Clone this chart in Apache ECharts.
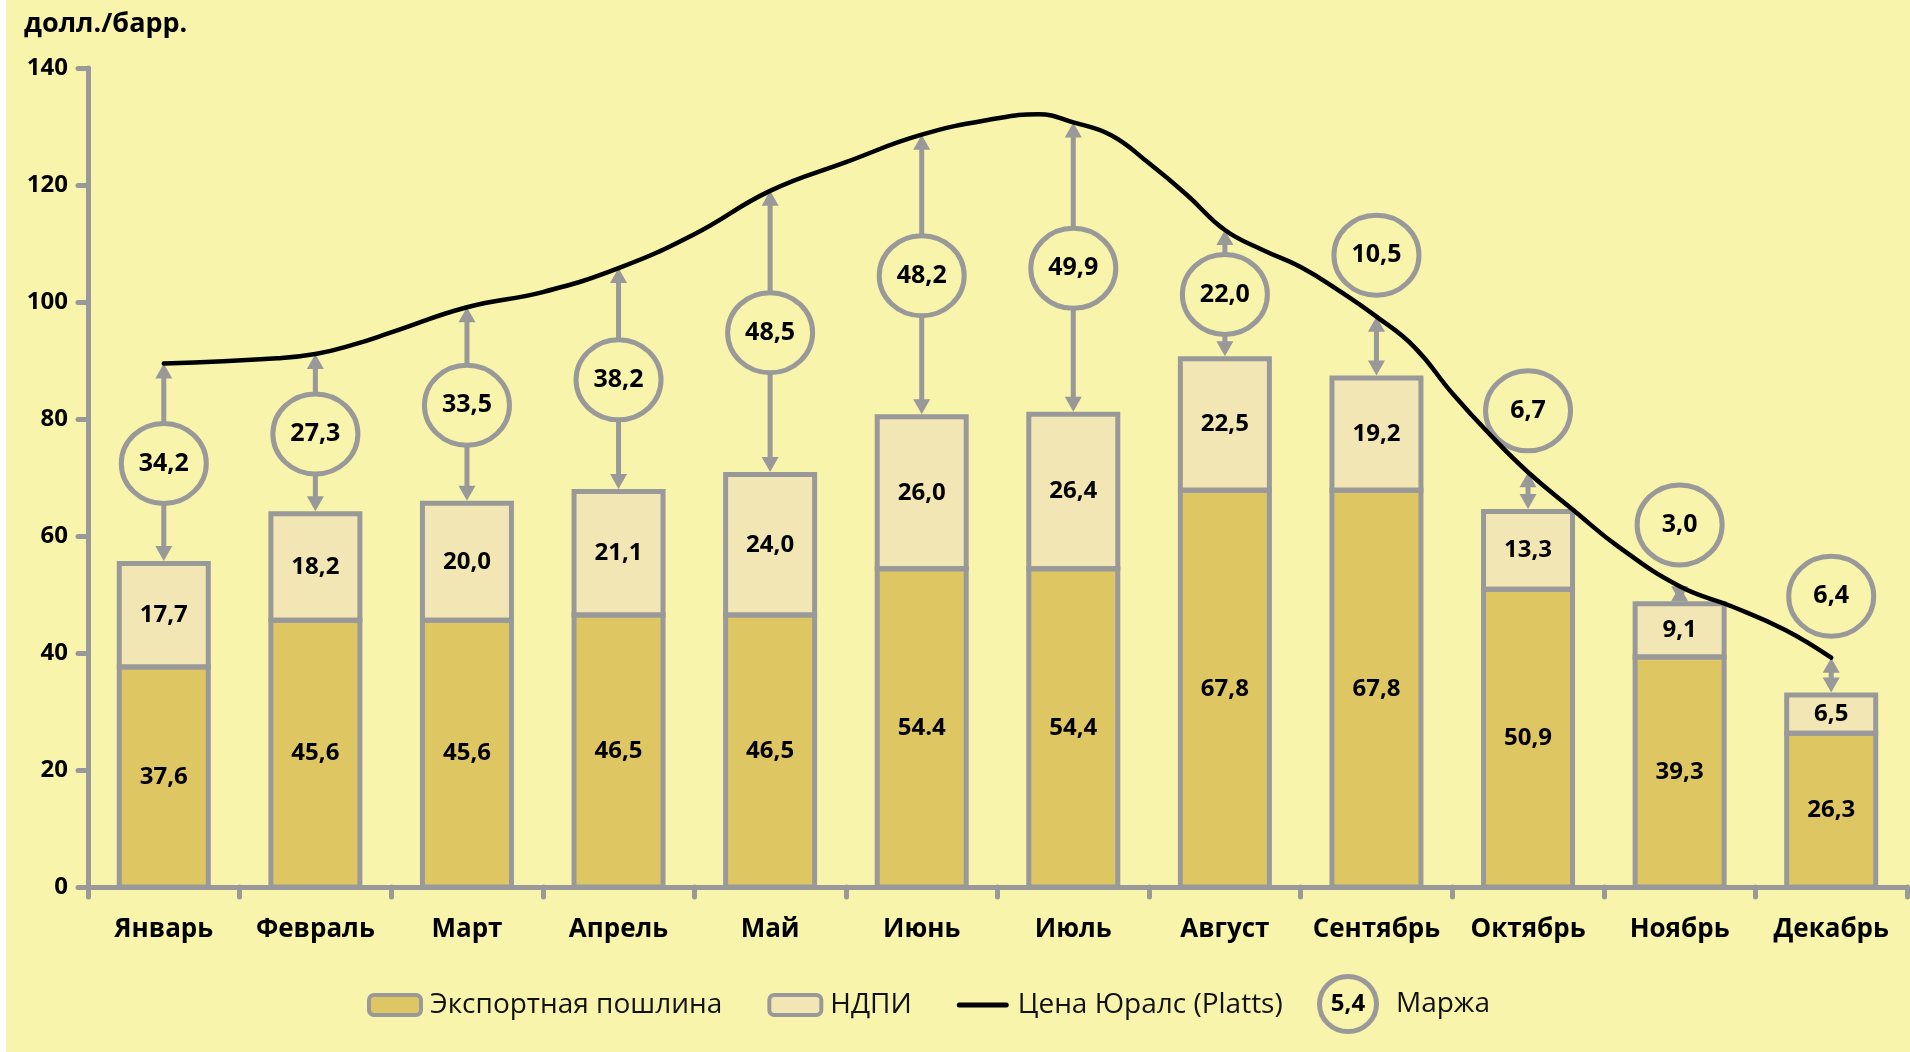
<!DOCTYPE html>
<html>
<head>
<meta charset="utf-8">
<script src="https://cdn.jsdelivr.net/npm/echarts@6/dist/echarts.min.js"></script>
<style>
  html, body { margin: 0; padding: 0; background: #fff; }
  #chart { position: absolute; left: 6px; top: 0; width: 1904px; height: 1052px; background: #F8F4AB; }
</style>
</head>
<body>
<div id="chart"></div>
<script>
const months = ['Январь', 'Февраль', 'Март', 'Апрель', 'Май', 'Июнь', 'Июль', 'Август', 'Сентябрь', 'Октябрь', 'Ноябрь', 'Декабрь']
const exportDuty = [37.6, 45.6, 45.6, 46.5, 46.5, 54.4, 54.4, 67.8, 67.8, 50.9, 39.3, 26.3]
const mineralTax = [17.7, 18.2, 20.0, 21.1, 24.0, 26.0, 26.4, 22.5, 19.2, 13.3, 9.1, 6.5]
const margin = [34.2, 27.3, 33.5, 38.2, 48.5, 48.2, 49.9, 22.0, 10.5, 6.7, 3.0, 6.4]
// цена Юралс: [позиция по месяцам (центр месяца = i + 0.5), долл./барр.]
const uralsPrice = [
  [0.5, 89.5], [1.25, 90.4], [1.5, 91.1], [1.75, 92.7], [2.0, 94.8], [2.5, 99.1],
  [3.0, 101.7], [3.5, 105.8], [4.0, 111.6], [4.5, 119.0], [5.0, 123.9], [5.5, 128.6],
  [6.0, 131.4], [6.27, 132.1], [6.5, 130.7], [6.75, 128.5], [7.0, 123.7], [7.25, 118.3],
  [7.5, 112.3], [7.75, 108.9], [8.0, 106.0], [8.25, 102.0], [8.5, 97.5], [8.75, 92.3],
  [9.0, 84.4], [9.25, 77.3], [9.5, 70.9], [9.8, 64.4], [10.1, 58.1], [10.5, 51.4],
  [10.85, 47.9], [11.2, 43.9], [11.5, 39.2]
]

const bg = '#F8F4AB'
const grey = '#999999'
const font = '"Open Sans", "Noto Sans", sans-serif'
const barW = 89

const fmt = v => v.toFixed(1).replace('.', ',')

// контуры столбиков, стрелка маржи и кружок с подписью
function renderMargin(params, api) {
  const i = api.value(0)
  const duty = api.value(1)
  const base = api.value(2)
  const top = api.value(3)
  const m = top - base
  const x = api.coord([i, 0])[0]
  const y0 = api.coord([i, 0])[1]
  const yd = api.coord([i, duty])[1]
  const yb = api.coord([i, base])[1]
  const yt = api.coord([i, top])[1]
  const yc = api.coord([i, m > 15 ? (base + top) / 2 : top + 10.5])[1]
  const ya = yb - 2.5
  const hw = 8.5
  const hh = 15
  const outline = { fill: null, stroke: grey, lineWidth: 5 }
  return {
    type: 'group',
    children: [
      { type: 'rect', shape: { x: x - barW / 2, y: yd, width: barW, height: y0 - yd }, style: outline },
      { type: 'rect', shape: { x: x - barW / 2, y: yb, width: barW, height: yd - yb }, style: outline },
      { type: 'line', shape: { x1: x, y1: yt + hh - 1, x2: x, y2: ya - hh + 1 }, style: { stroke: grey, lineWidth: 5 } },
      { type: 'polygon', shape: { points: [[x, yt], [x - hw, yt + hh], [x + hw, yt + hh]] }, style: { fill: grey } },
      { type: 'polygon', shape: { points: [[x, ya], [x - hw, ya - hh], [x + hw, ya - hh]] }, style: { fill: grey } },
      { type: 'ellipse', shape: { cx: x, cy: yc, rx: 42.5, ry: 40 }, style: { fill: bg, stroke: grey, lineWidth: 5 } },
      { type: 'text', style: { text: fmt(m), x: x, y: yc, align: 'center', verticalAlign: 'middle', font: 'bold 25px ' + font, fill: '#000' } }
    ]
  }
}

const chart = echarts.init(document.getElementById('chart'))
const option = {
  animation: false,
  backgroundColor: bg,
  title: {
    text: 'долл./барр.',
    left: 13,
    top: 6,
    textStyle: { fontFamily: font, fontWeight: 'bold', fontSize: 27, color: '#000' }
  },
  legend: {
    data: [
      'Экспортная пошлина',
      'НДПИ',
      {
        name: 'Цена Юралс (Platts)',
        icon: 'path://M2.5,0 L49.5,0 A2.5,2.5 0 0 1 49.5,5 L2.5,5 A2.5,2.5 0 0 1 2.5,0 Z',
        itemStyle: { color: '#000', borderWidth: 0 }
      }
    ],
    left: 356,
    top: 986,
    itemWidth: 52,
    itemHeight: 20,
    itemGap: 45,
    itemStyle: { borderColor: grey, borderWidth: 4 },
    textStyle: { fontFamily: font, fontSize: 28, color: '#111', padding: [0, 0, 0, 4] }
  },
  grid: { left: 82, right: 3, top: 68, bottom: 165 },
  xAxis: [
    {
      type: 'category',
      data: months,
      axisLine: { lineStyle: { color: grey, width: 5 } },
      axisTick: { show: true, interval: 0, length: 10, lineStyle: { color: grey, width: 5, cap: 'round' } },
      axisLabel: { interval: 0, color: '#000', fontFamily: font, fontWeight: 'bold', fontSize: 26, margin: 30 }
    },
    { type: 'value', min: 0, max: 12, show: false }
  ],
  yAxis: {
    type: 'value',
    min: 0,
    max: 140,
    interval: 20,
    splitLine: { show: false },
    axisLine: { show: true, lineStyle: { color: grey, width: 5, cap: 'round' } },
    axisTick: { show: true, length: 10, lineStyle: { color: grey, width: 5, cap: 'round' } },
    axisLabel: { color: '#000', fontFamily: font, fontWeight: 'bold', fontSize: 24, margin: 20 }
  },
  graphic: [
    { type: 'ellipse', shape: { cx: 1342, cy: 1004, rx: 28.5, ry: 27.5 }, style: { fill: bg, stroke: grey, lineWidth: 5 } },
    { type: 'text', style: { text: '5,4', x: 1342, y: 1004, align: 'center', verticalAlign: 'middle', font: 'bold 24px ' + font, fill: '#000' } },
    { type: 'text', style: { text: 'Маржа', x: 1390, y: 1004, verticalAlign: 'middle', font: '28px ' + font, fill: '#111' } }
  ],
  series: [
    {
      name: 'Экспортная пошлина',
      type: 'bar',
      stack: 'total',
      barWidth: barW,
      data: exportDuty,
      itemStyle: { color: '#DEC763' },
      label: {
        show: true,
        position: 'inside',
        color: '#000',
        fontFamily: font,
        fontWeight: 'bold',
        fontSize: 24,
        // в оригинале у июня стоит точка
        formatter: p => p.dataIndex === 5 ? p.value.toFixed(1) : fmt(p.value)
      }
    },
    {
      name: 'НДПИ',
      type: 'bar',
      stack: 'total',
      barWidth: barW,
      data: mineralTax,
      itemStyle: { color: '#F2E6B4' },
      label: {
        show: true,
        position: 'inside',
        color: '#000',
        fontFamily: font,
        fontWeight: 'bold',
        fontSize: 24,
        formatter: p => fmt(p.value)
      }
    },
    {
      name: 'Маржа',
      type: 'custom',
      z: 3,
      renderItem: renderMargin,
      data: months.map((m, i) => [i, exportDuty[i], exportDuty[i] + mineralTax[i], exportDuty[i] + mineralTax[i] + margin[i]])
    },
    {
      name: 'Цена Юралс (Platts)',
      type: 'line',
      xAxisIndex: 1,
      z: 4,
      smooth: 0.45,
      symbol: 'none',
      data: uralsPrice,
      itemStyle: { color: '#000' },
      lineStyle: { color: '#000', width: 4.5, cap: 'round' }
    }
  ]
}
chart.setOption(option)
</script>
</body>
</html>
